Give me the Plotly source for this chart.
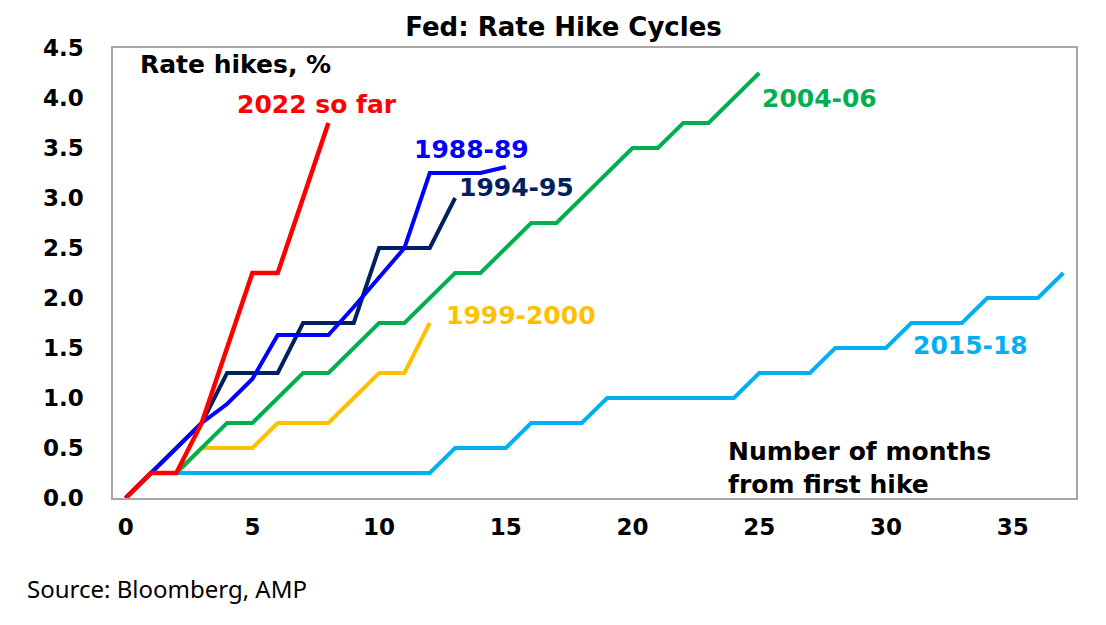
import plotly.graph_objects as go

# Fed funds rate hikes by month since the first hike of each cycle (%)
hike_2015_18 = [0, 0.25, 0.25, 0.25, 0.25, 0.25, 0.25, 0.25, 0.25, 0.25, 0.25, 0.25, 0.25,
                0.5, 0.5, 0.5, 0.75, 0.75, 0.75, 1.0, 1.0, 1.0, 1.0, 1.0, 1.0,
                1.25, 1.25, 1.25, 1.5, 1.5, 1.5, 1.75, 1.75, 1.75, 2.0, 2.0, 2.0, 2.25]
hike_1999_2000 = [0, 0.25, 0.25, 0.5, 0.5, 0.5, 0.75, 0.75, 0.75, 1.0, 1.25, 1.25, 1.75]
hike_2004_06 = [0, 0.25, 0.25, 0.5, 0.75, 0.75, 1.0, 1.25, 1.25, 1.5, 1.75, 1.75, 2.0,
                2.25, 2.25, 2.5, 2.75, 2.75, 3.0, 3.25, 3.5, 3.5, 3.75, 3.75, 4.0, 4.25]
hike_1994_95 = [0, 0.25, 0.5, 0.75, 1.25, 1.25, 1.25, 1.75, 1.75, 1.75, 2.5, 2.5, 2.5, 3.0]
hike_1988_89 = [0, 0.25, 0.5, 0.75, 0.94, 1.19, 1.63, 1.63, 1.63, 1.91, 2.2, 2.5,
                3.25, 3.25, 3.25, 3.31]
hike_2022 = [0, 0.25, 0.25, 0.75, 1.5, 2.25, 2.25, 3.0, 3.75]

x_ticks = [0, 5, 10, 15, 20, 25, 30, 35]
y_ticks = [0, 0.5, 1.0, 1.5, 2.0, 2.5, 3.0, 3.5, 4.0, 4.5]

# drawing order: first one ends up at the bottom
series = [
    ("2015-18", hike_2015_18, "#00B0F0", 4),
    ("1999-2000", hike_1999_2000, "#FFC000", 4),
    ("2004-06", hike_2004_06, "#00B050", 4),
    ("1994-95", hike_1994_95, "#002060", 4),
    ("1988-89", hike_1988_89, "#0000FF", 4),
    ("2022 so far", hike_2022, "#FF0000", 4.5),
]

BOLD = "DejaVu Sans"

fig = go.Figure()
for name, vals, col, w in series:
    fig.add_trace(go.Scatter(x=list(range(len(vals))), y=vals, mode="lines", name=name,
                             line=dict(color=col, width=w)))

# series labels, placed next to their lines
labels = [
    ("2022 so far", 7.54, 3.94, "#FF0000"),
    ("1988-89", 13.64, 3.49, "#0000FF"),
    ("1994-95", 15.43, 3.11, "#002060"),
    ("1999-2000", 15.59, 1.83, "#FFC000"),
    ("2004-06", 27.37, 4.0, "#00B050"),
    ("2015-18", 33.34, 1.53, "#00B0F0"),
]
for txt, xx, yy, col in labels:
    fig.add_annotation(x=xx, y=yy, text=txt, showarrow=False, xanchor="center", yanchor="middle",
                       font=dict(family=BOLD, size=25, color=col, weight="bold"))

fig.add_annotation(x=4.32, y=4.34, text="Rate hikes, %", showarrow=False,
                   xanchor="center", yanchor="middle",
                   font=dict(family=BOLD, size=25, color="black", weight="bold"))
fig.add_annotation(x=23.7, y=0.30, text="Number of months<br>from first hike", showarrow=False,
                   xanchor="left", yanchor="middle", align="left",
                   font=dict(family=BOLD, size=25, color="black", weight="bold"))

fig.add_annotation(xref="paper", yref="paper", x=-0.0914, y=-0.2, text="Source: Bloomberg, AMP",
                   showarrow=False, xanchor="left", yanchor="middle",
                   font=dict(family="Noto Sans", size=24, color="black"))

fig.update_layout(
    width=1106, height=625,
    margin=dict(l=105, r=38, t=40, b=135),
    paper_bgcolor="white", plot_bgcolor="white",
    showlegend=False,
    title=dict(text="Fed: Rate Hike Cycles", x=0.5023, xref="container", xanchor="center",
               y=0.969, yanchor="middle",
               font=dict(family=BOLD, size=26, color="black", weight="bold")),
    xaxis=dict(range=[-0.5, 37.5], tickvals=x_ticks, showgrid=False, zeroline=False,
               showline=True, mirror=True, linecolor="#A6A6A6", linewidth=1.5,
               ticks="", ticklabelstandoff=8,
               tickfont=dict(family=BOLD, size=23, color="black", weight="bold")),
    yaxis=dict(range=[0, 4.5], tickvals=y_ticks, tickformat=".1f", showgrid=False, zeroline=False,
               showline=True, mirror=True, linecolor="#A6A6A6", linewidth=1.5,
               ticks="", ticklabelstandoff=23,
               tickfont=dict(family=BOLD, size=23, color="black", weight="bold")),
)

fig.write_html("out.html")
